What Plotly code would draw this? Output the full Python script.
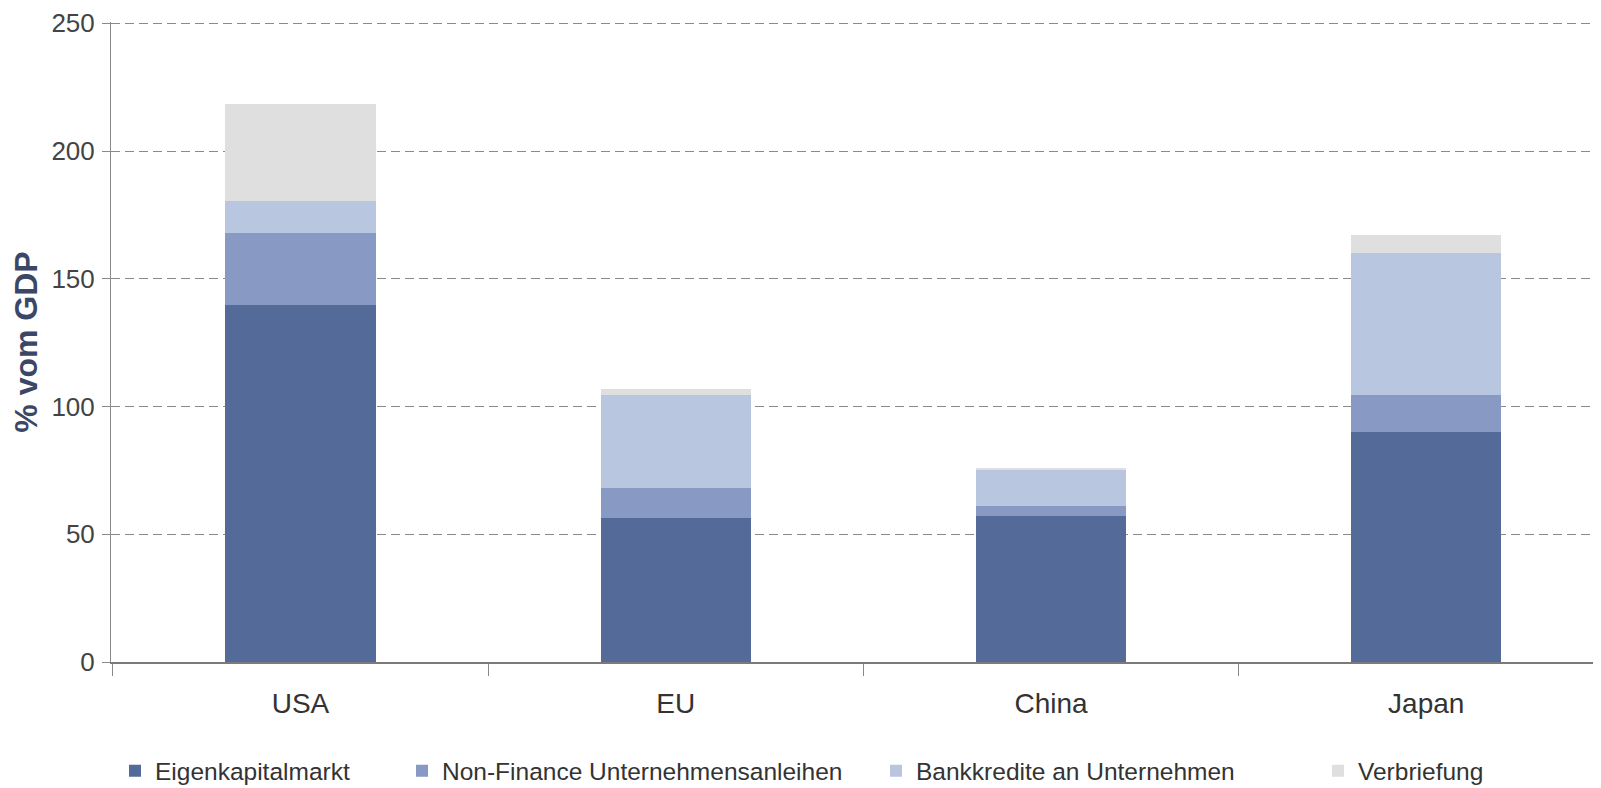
import plotly.graph_objects as go

regions = ['USA', 'EU', 'China', 'Japan']
series_names = ['Eigenkapitalmarkt', 'Non-Finance Unternehmensanleihen',
                'Bankkredite an Unternehmen', 'Verbriefung']
eigenkapital = [139.6, 56.4, 57.1, 90.1]
anleihen = [28.2, 11.7, 3.9, 14.6]
bankkredite = [12.8, 36.6, 14.2, 55.5]
verbriefung = [37.9, 2.0, 0.5, 7.0]
colors = ['#546a99', '#8899c3', '#b9c6e0', '#dfdfdf']

font = 'Liberation Sans, Arial, sans-serif'

# one legend per series so each entry sits where the original puts it
legend_ids = ['legend', 'legend2', 'legend3', 'legend4']
legend_x = [107, 394, 868, 1310]

fig = go.Figure()
for name, vals, col, lg in zip(series_names, [eigenkapital, anleihen, bankkredite, verbriefung],
                               colors, legend_ids):
    fig.add_trace(go.Bar(x=regions, y=vals, name=name, legend=lg,
                         marker=dict(color=col, line=dict(width=0))))

fig.update_layout(
    barmode='stack', bargap=0.6,
    width=1601, height=788,
    margin=dict(l=103, r=0, t=14, b=134),
    plot_bgcolor='white', paper_bgcolor='white',
    showlegend=True,
)
for lg, lx in zip(legend_ids, legend_x):
    fig.update_layout({lg: dict(orientation='h', x=lx / 1601, xanchor='left', xref='container',
                                y=0.032, yanchor='middle', yref='container', itemwidth=30,
                                bgcolor='rgba(0,0,0,0)',
                                font=dict(family=font, size=24.5, color='#333333'))})

fig.update_yaxes(range=[0, 250.5], tickvals=[0, 50, 100, 150, 200, 250], showgrid=True,
                 gridcolor='#8a8a8a', gridwidth=1, griddash='9px,5px', zeroline=False,
                 showline=True, linecolor='#8a8a8a', linewidth=1,
                 ticks='outside', ticklen=8, tickcolor='#8a8a8a', ticklabelstandoff=2,
                 tickfont=dict(family=font, size=26, color='#444444'),
                 title=dict(text='<b>% vom GDP</b>', standoff=8,
                            font=dict(family=font, size=32, color='#3b4766')))
fig.update_xaxes(range=[-0.505, 3.487], showline=True, linecolor='#7a7a7a', linewidth=1.5,
                 ticks='outside', tickson='boundaries', ticklen=12, tickcolor='#8a8a8a',
                 ticklabelstandoff=16, showgrid=False,
                 tickfont=dict(family=font, size=28, color='#333333'))

fig.write_html("out.html")
